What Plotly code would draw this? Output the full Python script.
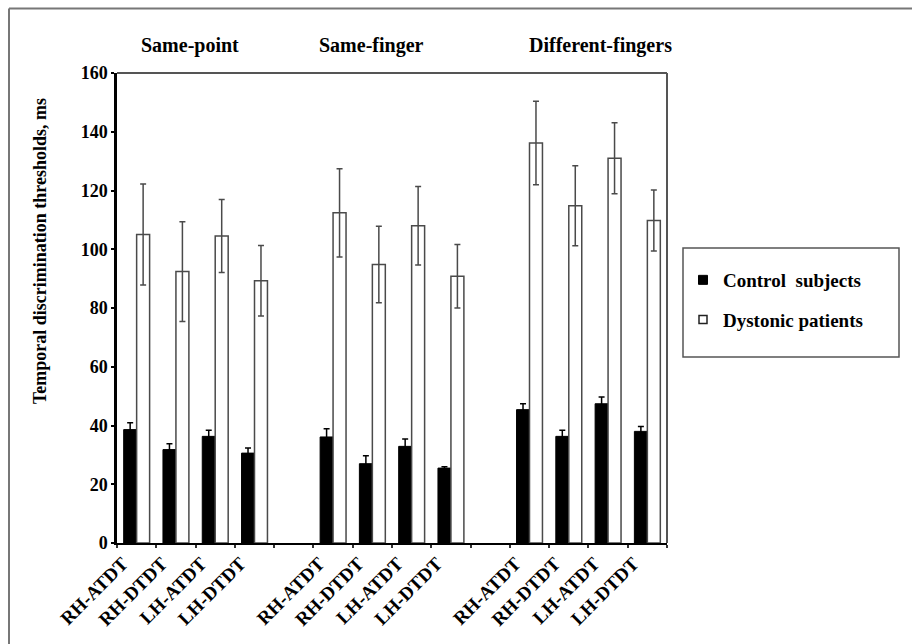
import plotly.graph_objects as go

# ---------------- data ----------------
groups = ["Same-point", "Same-finger", "Different-fingers"]
conditions = ["RH-ATDT", "RH-DTDT", "LH-ATDT", "LH-DTDT"]
control_mean = [38.6, 31.8, 36.3, 30.6, 36.1, 27.0, 32.9, 25.5, 45.4, 36.3, 47.4, 38.0]
control_sem = [2.3, 2.0, 2.1, 1.7, 2.8, 2.7, 2.5, 0.5, 2.0, 2.1, 2.3, 1.7]
dystonic_mean = [105.0, 92.4, 104.5, 89.3, 112.4, 94.8, 108.0, 90.8, 136.2, 114.8, 131.0, 109.8]
dystonic_sem = [17.2, 17.0, 12.4, 12.0, 15.0, 13.0, 13.4, 10.8, 14.2, 13.6, 12.1, 10.4]
series_names = ["Control  subjects", "Dystonic patients"]
y_title = "Temporal discrimination thresholds, ms"

# positions: 4 conditions per group, one empty slot between groups
n_cond = len(conditions)
xpos = [g * (n_cond + 1) + i for g in range(len(groups)) for i in range(n_cond)]
ticktext = conditions * len(groups)
n_slots = len(groups) * (n_cond + 1) - 1
boundaries = [k + 0.5 for k in range(-1, n_slots)]
label_shift = -0.36  # rotated labels sit slightly left of the bar pair
label_pos = [p + label_shift for p in xpos]

FONT = "Liberation Serif"
EDGE = "#4a4a4a"

fig = go.Figure()
fig.add_trace(go.Bar(
    x=xpos, y=control_mean, name=series_names[0], showlegend=False,
    marker=dict(color="black", line=dict(color="black", width=1)),
    error_y=dict(type="data", array=control_sem, visible=True,
                 color="black", thickness=1.5, width=3),
))
fig.add_trace(go.Bar(
    x=xpos, y=dystonic_mean, name=series_names[1], showlegend=False,
    marker=dict(color="white", line=dict(color=EDGE, width=1.5)),
    error_y=dict(type="data", array=dystonic_sem, visible=True,
                 color=EDGE, thickness=1.5, width=3),
))
# legend entries (small square keys as in the original)
fig.add_trace(go.Scatter(
    x=[None], y=[None], mode="markers", name=series_names[0], legendgroup="a",
    marker=dict(symbol="square", size=9, color="black", line=dict(color="black", width=1)),
))
fig.add_trace(go.Scatter(
    x=[None], y=[None], mode="markers", name=series_names[1], legendgroup="b",
    marker=dict(symbol="square", size=8, color="white", line=dict(color="#222", width=1.5)),
))

# plot area in pixels: x 117..667, y 73..543
L, R, T, B = 117, 667, 73, 543
W, H = R - L, B - T
def px(xp):
    return (xp - L) / W
def py(yp):
    return (B - yp) / H

fig.update_layout(
    width=912, height=644,
    margin=dict(l=L, r=912 - R, t=T, b=644 - B),
    paper_bgcolor="white", plot_bgcolor="white",
    barmode="group", bargap=0.34, bargroupgap=0.0,
    font=dict(family=FONT, color="black"),
    showlegend=True,
    legend=dict(
        x=px(683), y=py(261), xanchor="left", yanchor="top",
        bgcolor="rgba(0,0,0,0)", borderwidth=0,
        font=dict(family=FONT, size=19, color="black", weight="bold"),
        tracegroupgap=12, itemwidth=30,
    ),
    xaxis=dict(
        range=[-0.5, n_slots - 0.5],
        tickmode="array", tickvals=label_pos, ticktext=ticktext,
        tickangle=-45, ticks="", showgrid=False, zeroline=False,
        showline=True, linecolor="black", linewidth=2,
        tickfont=dict(family=FONT, size=19, weight="bold"),
        minor=dict(tickmode="array", tickvals=boundaries, ticks="outside",
                   ticklen=3, tickwidth=1.5, tickcolor="#333"),
    ),
    yaxis=dict(
        range=[0, 160], tickmode="linear", tick0=0, dtick=20,
        ticks="outside", ticklen=3, tickwidth=1.5, tickcolor="black",
        showgrid=False, zeroline=False,
        showline=True, linecolor="black", linewidth=2.5,
        tickfont=dict(family=FONT, size=18, weight="bold"),
    ),
)

# y-axis title
fig.add_annotation(
    text=y_title, xref="paper", yref="paper", x=px(40), y=py(251),
    textangle=-90, showarrow=False, xanchor="center", yanchor="middle",
    font=dict(family=FONT, size=18, weight="bold"),
)

# group titles
title_px = [190, 371, 600]
for name, xp in zip(groups, title_px):
    fig.add_annotation(
        text=name, xref="paper", yref="paper", x=px(xp), y=py(46),
        showarrow=False, xanchor="center", yanchor="middle",
        font=dict(family=FONT, size=20, weight="bold"),
    )

# plot frame (top and right)
fig.add_shape(type="line", xref="paper", yref="paper", x0=0, x1=1, y0=1, y1=1,
              line=dict(color="#555", width=2))
fig.add_shape(type="line", xref="paper", yref="paper", x0=1, x1=1, y0=0, y1=1,
              line=dict(color="#555", width=2))

# legend box
fig.add_shape(type="rect", xref="paper", yref="paper",
              x0=px(683), x1=px(899), y0=py(357), y1=py(248),
              line=dict(color="#555", width=1.5))

# outer figure frame (top and left edges)
fig.add_shape(type="line", xref="paper", yref="paper",
              x0=px(9), x1=px(912), y0=py(8.5), y1=py(8.5),
              line=dict(color="#777", width=2))
fig.add_shape(type="line", xref="paper", yref="paper",
              x0=px(9), x1=px(9), y0=py(8.5), y1=py(644),
              line=dict(color="#777", width=2))

fig.write_html("out.html")
